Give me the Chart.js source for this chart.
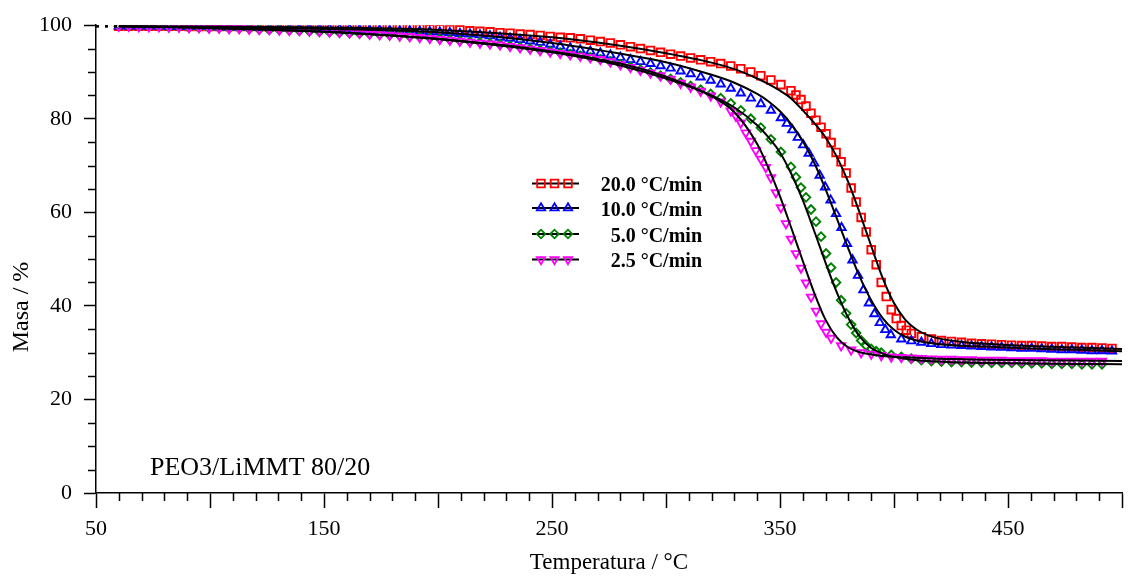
<!DOCTYPE html>
<html>
<head>
<meta charset="utf-8">
<script src="https://cdn.jsdelivr.net/npm/chart.js@4.4.0/dist/chart.umd.min.js"></script>
<style>
  html, body { margin: 0; padding: 0; background: #fff; }
</style>
</head>
<body>
<canvas id="tgaChart" width="1130" height="578"></canvas>
<script>
// Temperature grid of the logged points (°C); the steep parts were logged more densely
const temperature = [60, 64.4, 68.8, 73.2, 77.6, 82, 86.4, 90.8, 95.2, 99.6,
  104, 108.4, 112.8, 117.2, 121.6, 126, 130.4, 134.8, 139.2, 143.6,
  148, 152.4, 156.8, 161.2, 165.6, 170, 174.4, 178.8, 183.2, 187.6,
  192, 196.4, 200.8, 205.2, 209.6, 214, 218.4, 222.8, 227.2, 231.6,
  236, 240.4, 244.8, 249.2, 253.6, 258, 262.4, 266.8, 271.2, 275.6,
  280, 284.4, 288.8, 293.2, 297.6, 302, 306.4, 310.8, 315.2, 319.6,
  324, 328.4, 332.8, 337.2, 341.6, 346, 350.4, 354.8, 359.2, 363.6,
  368, 372.4, 376.8, 381.2, 385.6, 390, 394.4, 398.8, 403.2, 407.6,
  412, 416.4, 420.8, 425.2, 429.6, 434, 438.4, 442.8, 447.2, 451.6,
  456, 460.4, 464.8, 469.2, 473.6, 478, 482.4, 486.8, 491.2, 495.6];

// 20 °C/min
const temp20 = temperature.slice(0, 68).concat(
  [357.0, 359.2, 361.4, 363.6, 365.8, 368.0, 370.2, 372.4, 374.6, 376.8, 379.0, 381.2,
   383.4, 385.6, 387.8, 390.0, 392.2, 394.4, 396.6, 398.8, 401.0, 403.2, 405.4, 407.6],
  temperature.slice(80));
const mass20 = [99.8, 99.8, 99.8, 99.8, 99.8, 99.8, 99.8, 99.7, 99.7, 99.7,
  99.7, 99.7, 99.7, 99.7, 99.7, 99.6, 99.6, 99.6, 99.6, 99.6,
  99.6, 99.6, 99.6, 99.6, 99.5, 99.5, 99.5, 99.5, 99.4, 99.4,
  99.3, 99.2, 99.2, 99.1, 99.0, 98.8, 98.7, 98.6, 98.4, 98.3,
  98.1, 98.0, 97.8, 97.6, 97.4, 97.3, 97.1, 96.8, 96.5, 96.2,
  95.8, 95.4, 95.0, 94.6, 94.2, 93.8, 93.4, 93.0, 92.6, 92.2,
  91.8, 91.3, 90.7, 90.0, 89.2, 88.3, 87.3, 86.0,
  85.1, 84.1, 82.7, 81.2, 79.7, 78.2, 76.8, 74.9, 72.8, 70.8, 68.4, 65.2,
  62.2, 58.9, 55.8, 52.0, 48.8, 45.0, 42.0, 39.2, 37.3, 35.8, 34.8, 34.1,
  33.4, 32.9, 32.6, 32.4, 32.2, 32.0, 31.9, 31.8, 31.7, 31.6,
  31.5, 31.5, 31.4, 31.3, 31.3, 31.2, 31.1, 31.1, 31.0, 30.9];

// 10 °C/min
const temp10 = temperature.slice(0, 67).concat(
  [353.0, 355.4, 357.8, 360.2, 362.6, 365.0, 367.4, 369.8, 372.2, 374.6,
   377.0, 379.4, 381.8, 384.2, 386.6, 389.0, 391.4, 393.8, 396.2, 398.6],
  temperature.slice(78));
const mass10 = [99.8, 99.8, 99.8, 99.8, 99.8, 99.7, 99.7, 99.7, 99.7, 99.7,
  99.6, 99.6, 99.6, 99.6, 99.5, 99.5, 99.5, 99.4, 99.4, 99.4,
  99.3, 99.3, 99.2, 99.2, 99.1, 99.0, 99.0, 98.9, 98.8, 98.8,
  98.7, 98.6, 98.5, 98.4, 98.2, 98.1, 97.9, 97.7, 97.4, 97.2,
  96.9, 96.6, 96.3, 95.9, 95.5, 95.1, 94.7, 94.4, 94.0, 93.6,
  93.1, 92.6, 92.2, 91.8, 91.3, 90.8, 90.2, 89.6, 88.9, 88.2,
  87.4, 86.5, 85.5, 84.4, 83.2, 81.8, 80.2,
  79.0, 77.6, 76.0, 74.4, 72.6, 70.5, 67.9, 65.4, 62.6, 59.7,
  56.7, 53.3, 49.8, 46.5, 43.4, 40.6, 38.3, 36.4, 34.9, 33.8,
  32.9, 32.5, 32.2, 31.9, 31.7, 31.6, 31.5, 31.4, 31.3, 31.2, 31.1,
  31.0, 30.9, 30.9, 30.8, 30.7, 30.6, 30.6, 30.5, 30.4, 30.4, 30.3];

// 5 °C/min
const temp5 = temperature.slice(0, 68).concat(
  [357.0, 359.2, 361.4, 363.6, 365.8, 368.0, 370.2, 372.4, 374.6, 376.8,
   379.0, 381.2, 383.4, 385.6, 387.8, 390.0, 392.2, 394.4],
  temperature.slice(77, 99));
const mass5 = [99.8, 99.8, 99.7, 99.7, 99.7, 99.6, 99.6, 99.5, 99.5, 99.4,
  99.4, 99.3, 99.3, 99.2, 99.1, 99.0, 99.0, 98.9, 98.8, 98.7,
  98.6, 98.5, 98.4, 98.3, 98.2, 98.1, 98.0, 97.9, 97.8, 97.6,
  97.5, 97.3, 97.1, 96.9, 96.7, 96.5, 96.3, 96.1, 95.9, 95.6,
  95.3, 95.0, 94.7, 94.4, 94.1, 93.8, 93.5, 93.1, 92.7, 92.2,
  91.7, 91.1, 90.5, 89.9, 89.2, 88.5, 87.8, 87.0, 86.2, 85.3,
  84.4, 83.3, 81.8, 80.0, 78.1, 75.6, 72.9, 69.7,
  67.5, 65.3, 63.2, 60.6, 58.0, 54.8, 51.2, 48.2, 45.0, 41.2,
  38.4, 36.0, 34.2, 32.6, 31.5, 30.8, 30.3, 30.0,
  29.5, 29.1, 28.7, 28.4, 28.2, 28.1, 28.0, 28.0, 27.9, 27.9, 27.8,
  27.8, 27.8, 27.7, 27.7, 27.7, 27.6, 27.6, 27.6, 27.5, 27.5, 27.5];

// 2.5 °C/min
const temp2_5 = temperature.slice(0, 62).concat(
  [330.6, 332.8, 335.0, 337.2, 339.4, 341.6, 343.8, 346.0, 348.2, 350.4,
   352.6, 354.8, 357.0, 359.2, 361.4, 363.6, 365.8, 368.0, 370.2, 372.4],
  temperature.slice(72, 99));
const mass2_5 = [99.8, 99.8, 99.7, 99.7, 99.7, 99.6, 99.6, 99.5, 99.5, 99.4,
  99.4, 99.3, 99.3, 99.2, 99.1, 99.1, 99.0, 98.9, 98.9, 98.8,
  98.7, 98.6, 98.5, 98.4, 98.3, 98.1, 98.0, 97.9, 97.7, 97.6,
  97.4, 97.2, 97.0, 96.8, 96.6, 96.4, 96.2, 96.0, 95.8, 95.5,
  95.2, 94.9, 94.6, 94.3, 94.0, 93.7, 93.4, 93.1, 92.7, 92.2,
  91.6, 91.0, 90.4, 89.8, 89.2, 88.5, 87.6, 86.8, 85.9, 84.9,
  83.6, 81.7,
  80.6, 79.1, 77.0, 75.2, 73.2, 71.4, 69.6, 67.4, 64.2, 61.0,
  57.6, 54.3, 51.2, 48.1, 44.9, 41.9, 38.9, 36.2, 34.4, 33.1,
  31.5, 30.6, 30.0, 29.7, 29.4, 29.1, 29.0, 28.9, 28.8, 28.7,
  28.6, 28.6, 28.5, 28.5, 28.4, 28.4, 28.4, 28.3, 28.3, 28.3,
  28.3, 28.2, 28.2, 28.2, 28.2, 28.2, 28.2];

// Model fits (black lines)
const fitTemp = [50, 60, 100, 150, 200, 250, 280, 300, 320, 330, 340, 345, 350, 355, 360, 365,
  370, 375, 380, 385, 390, 395, 400, 405, 410, 415, 420, 430, 440, 460, 480, 500];
const fit20 = [99.8, 99.8, 99.7, 99.5, 99.0, 97.4, 95.6, 94.0, 92.0, 90.6, 88.6, 87.4, 86.0, 84.3, 81.8, 79.1,
  76.0, 71.8, 66.4, 59.8, 52.8, 46.0, 40.6, 37.0, 34.9, 33.7, 33.0, 32.3, 31.9, 31.4, 31.1, 30.8];
const fit10 = [99.8, 99.8, 99.6, 99.2, 98.5, 96.2, 93.9, 92.1, 89.4, 87.7, 85.3, 83.7, 81.6, 78.8, 75.2, 70.6,
  64.9, 58.6, 52.2, 46.2, 41.2, 37.4, 34.9, 33.4, 32.6, 32.1, 31.8, 31.5, 31.3, 30.9, 30.6, 30.3];
const fit5 = [99.8, 99.8, 99.4, 98.6, 97.1, 94.4, 91.8, 89.0, 85.0, 82.4, 78.6, 76.0, 72.8, 68.2, 62.6, 56.0,
  49.2, 42.8, 37.4, 33.4, 31.0, 29.8, 29.1, 28.7, 28.4, 28.2, 28.1, 27.9, 27.8, 27.7, 27.6, 27.5];
const fit2_5 = [99.8, 99.8, 99.4, 98.6, 97.0, 94.2, 91.4, 88.6, 84.8, 81.4, 74.6, 69.4, 63.4, 56.6, 49.6, 42.8,
  37.0, 33.2, 31.1, 30.1, 29.6, 29.3, 29.1, 29.0, 28.9, 28.8, 28.7, 28.6, 28.5, 28.4, 28.3, 28.2];

const seriesLabels = ['20.0 °C/min', '10.0 °C/min', '5.0 °C/min', '2.5 °C/min'];
const xTickLabels = [50, 150, 250, 350, 450];

const serif = "'Liberation Serif', 'Times New Roman', serif";

function toPoints(xs, ys) {
  return ys.map((y, i) => ({ x: xs[i], y: y }));
}

const markerStyles = [
  { color: '#ff0000', pointStyle: 'rect', radius: 5.4, rotation: 0 },
  { color: '#0000ff', pointStyle: 'triangle', radius: 4.8, rotation: 0 },
  { color: '#008000', pointStyle: 'rectRot', radius: 4.3, rotation: 0 },
  { color: '#ff00ff', pointStyle: 'triangle', radius: 4.8, rotation: 180 }
];
const measuredT = [temp20, temp10, temp5, temp2_5];
const measured = [mass20, mass10, mass5, mass2_5];
const fits = [fit20, fit10, fit5, fit2_5];

const datasets = [];
measured.forEach((m, i) => {
  const s = markerStyles[i];
  datasets.push({
    label: seriesLabels[i],
    data: toPoints(measuredT[i], m),
    showLine: false,
    pointStyle: s.pointStyle,
    pointRotation: s.rotation,
    pointRadius: s.radius,
    pointBorderWidth: 1.9,
    pointBorderColor: s.color,
    pointBackgroundColor: 'rgba(0,0,0,0)',
    order: 4 - i
  });
});
fits.forEach((f, i) => {
  datasets.push({
    label: 'fit ' + seriesLabels[i],
    data: toPoints(fitTemp, f),
    showLine: true,
    borderColor: '#000',
    borderWidth: 2,
    pointRadius: 0,
    cubicInterpolationMode: 'monotone',
    segment: {
      borderDash: ctx => ctx.p0.parsed.x < 59 ? [3, 6] : undefined
    },
    order: 0
  });
});

// minor ticks, axis titles, sample label and legend
const decorations = {
  id: 'decorations',
  afterDraw(chart) {
    const { ctx, chartArea, scales: { x, y } } = chart;
    ctx.save();
    ctx.strokeStyle = '#000';
    ctx.lineWidth = 1.5;
    ctx.beginPath();
    for (let t = 60; t < 500; t += 10) {
      if (t % 50 === 0) continue;
      const px = Math.round(x.getPixelForValue(t)) + 0.5;
      ctx.moveTo(px, chartArea.bottom);
      ctx.lineTo(px, chartArea.bottom + 8);
    }
    for (let m = 5; m < 100; m += 5) {
      if (m % 20 === 0) continue;
      const py = Math.round(y.getPixelForValue(m)) + 0.5;
      ctx.moveTo(chartArea.left, py);
      ctx.lineTo(chartArea.left - 8, py);
    }
    ctx.stroke();

    ctx.fillStyle = '#000';
    ctx.font = '23px ' + serif;
    ctx.textAlign = 'center';
    ctx.textBaseline = 'middle';
    ctx.fillText('Temperatura / °C', (chartArea.left + chartArea.right) / 2, 563);

    ctx.save();
    ctx.translate(22, 307);
    ctx.rotate(-Math.PI / 2);
    ctx.font = '24px ' + serif;
    ctx.fillText('Masa / %', 0, 0);
    ctx.restore();

    ctx.font = '26px ' + serif;
    ctx.textAlign = 'left';
    ctx.textBaseline = 'alphabetic';
    ctx.fillText('PEO3/LiMMT 80/20', 150, 475);

    // legend
    const rows = [183.5, 208, 234, 259.5];
    ctx.font = 'bold 20px ' + serif;
    ctx.textAlign = 'right';
    rows.forEach((ry, i) => {
      const s = markerStyles[i];
      ctx.strokeStyle = '#000';
      ctx.lineWidth = 1.8;
      ctx.beginPath();
      ctx.moveTo(532, ry);
      ctx.lineTo(579, ry);
      ctx.stroke();
      ctx.strokeStyle = s.color;
      ctx.fillStyle = 'rgba(0,0,0,0)';
      [541, 554.5, 568].forEach(mx => {
        Chart.helpers.drawPoint(ctx, {
          pointStyle: s.pointStyle, rotation: s.rotation,
          radius: s.radius, borderWidth: 1.9
        }, mx, ry);
      });
      ctx.fillStyle = '#000';
      ctx.fillText(seriesLabels[i], 702, ry + 7.5);
    });
    ctx.restore();
  }
};

new Chart(document.getElementById('tgaChart'), {
  type: 'scatter',
  data: { datasets: datasets },
  options: {
    responsive: false,
    animation: false,
    devicePixelRatio: 1,
    layout: { padding: { top: 22, right: 4, left: 0, bottom: 0 } },
    plugins: { legend: { display: false }, tooltip: { enabled: false } },
    scales: {
      x: {
        type: 'linear',
        min: 50,
        max: 500,
        afterBuildTicks: scale => {
          const t = [];
          for (let v = 50; v <= 500; v += 50) t.push({ value: v });
          scale.ticks = t;
        },
        afterFit: scale => { scale.height = 85; },
        ticks: {
          autoSkip: false,
          maxRotation: 0,
          padding: 8,
          color: '#000',
          font: { family: serif, size: 22 },
          callback: v => xTickLabels.includes(v) ? String(v) : ''
        },
        grid: {
          drawOnChartArea: false,
          tickLength: 15,
          tickColor: '#000',
          tickWidth: 1.5
        },
        border: { display: true, color: '#000', width: 1.5 }
      },
      y: {
        min: 0,
        max: 100,
        afterFit: scale => { scale.width = 96; },
        ticks: {
          stepSize: 20,
          padding: 12,
          color: '#000',
          font: { family: serif, size: 22 }
        },
        grid: {
          drawOnChartArea: false,
          tickLength: 12,
          tickColor: '#000',
          tickWidth: 1.5
        },
        border: { display: true, color: '#000', width: 1.5 }
      }
    }
  },
  plugins: [decorations]
});
</script>
</body>
</html>
